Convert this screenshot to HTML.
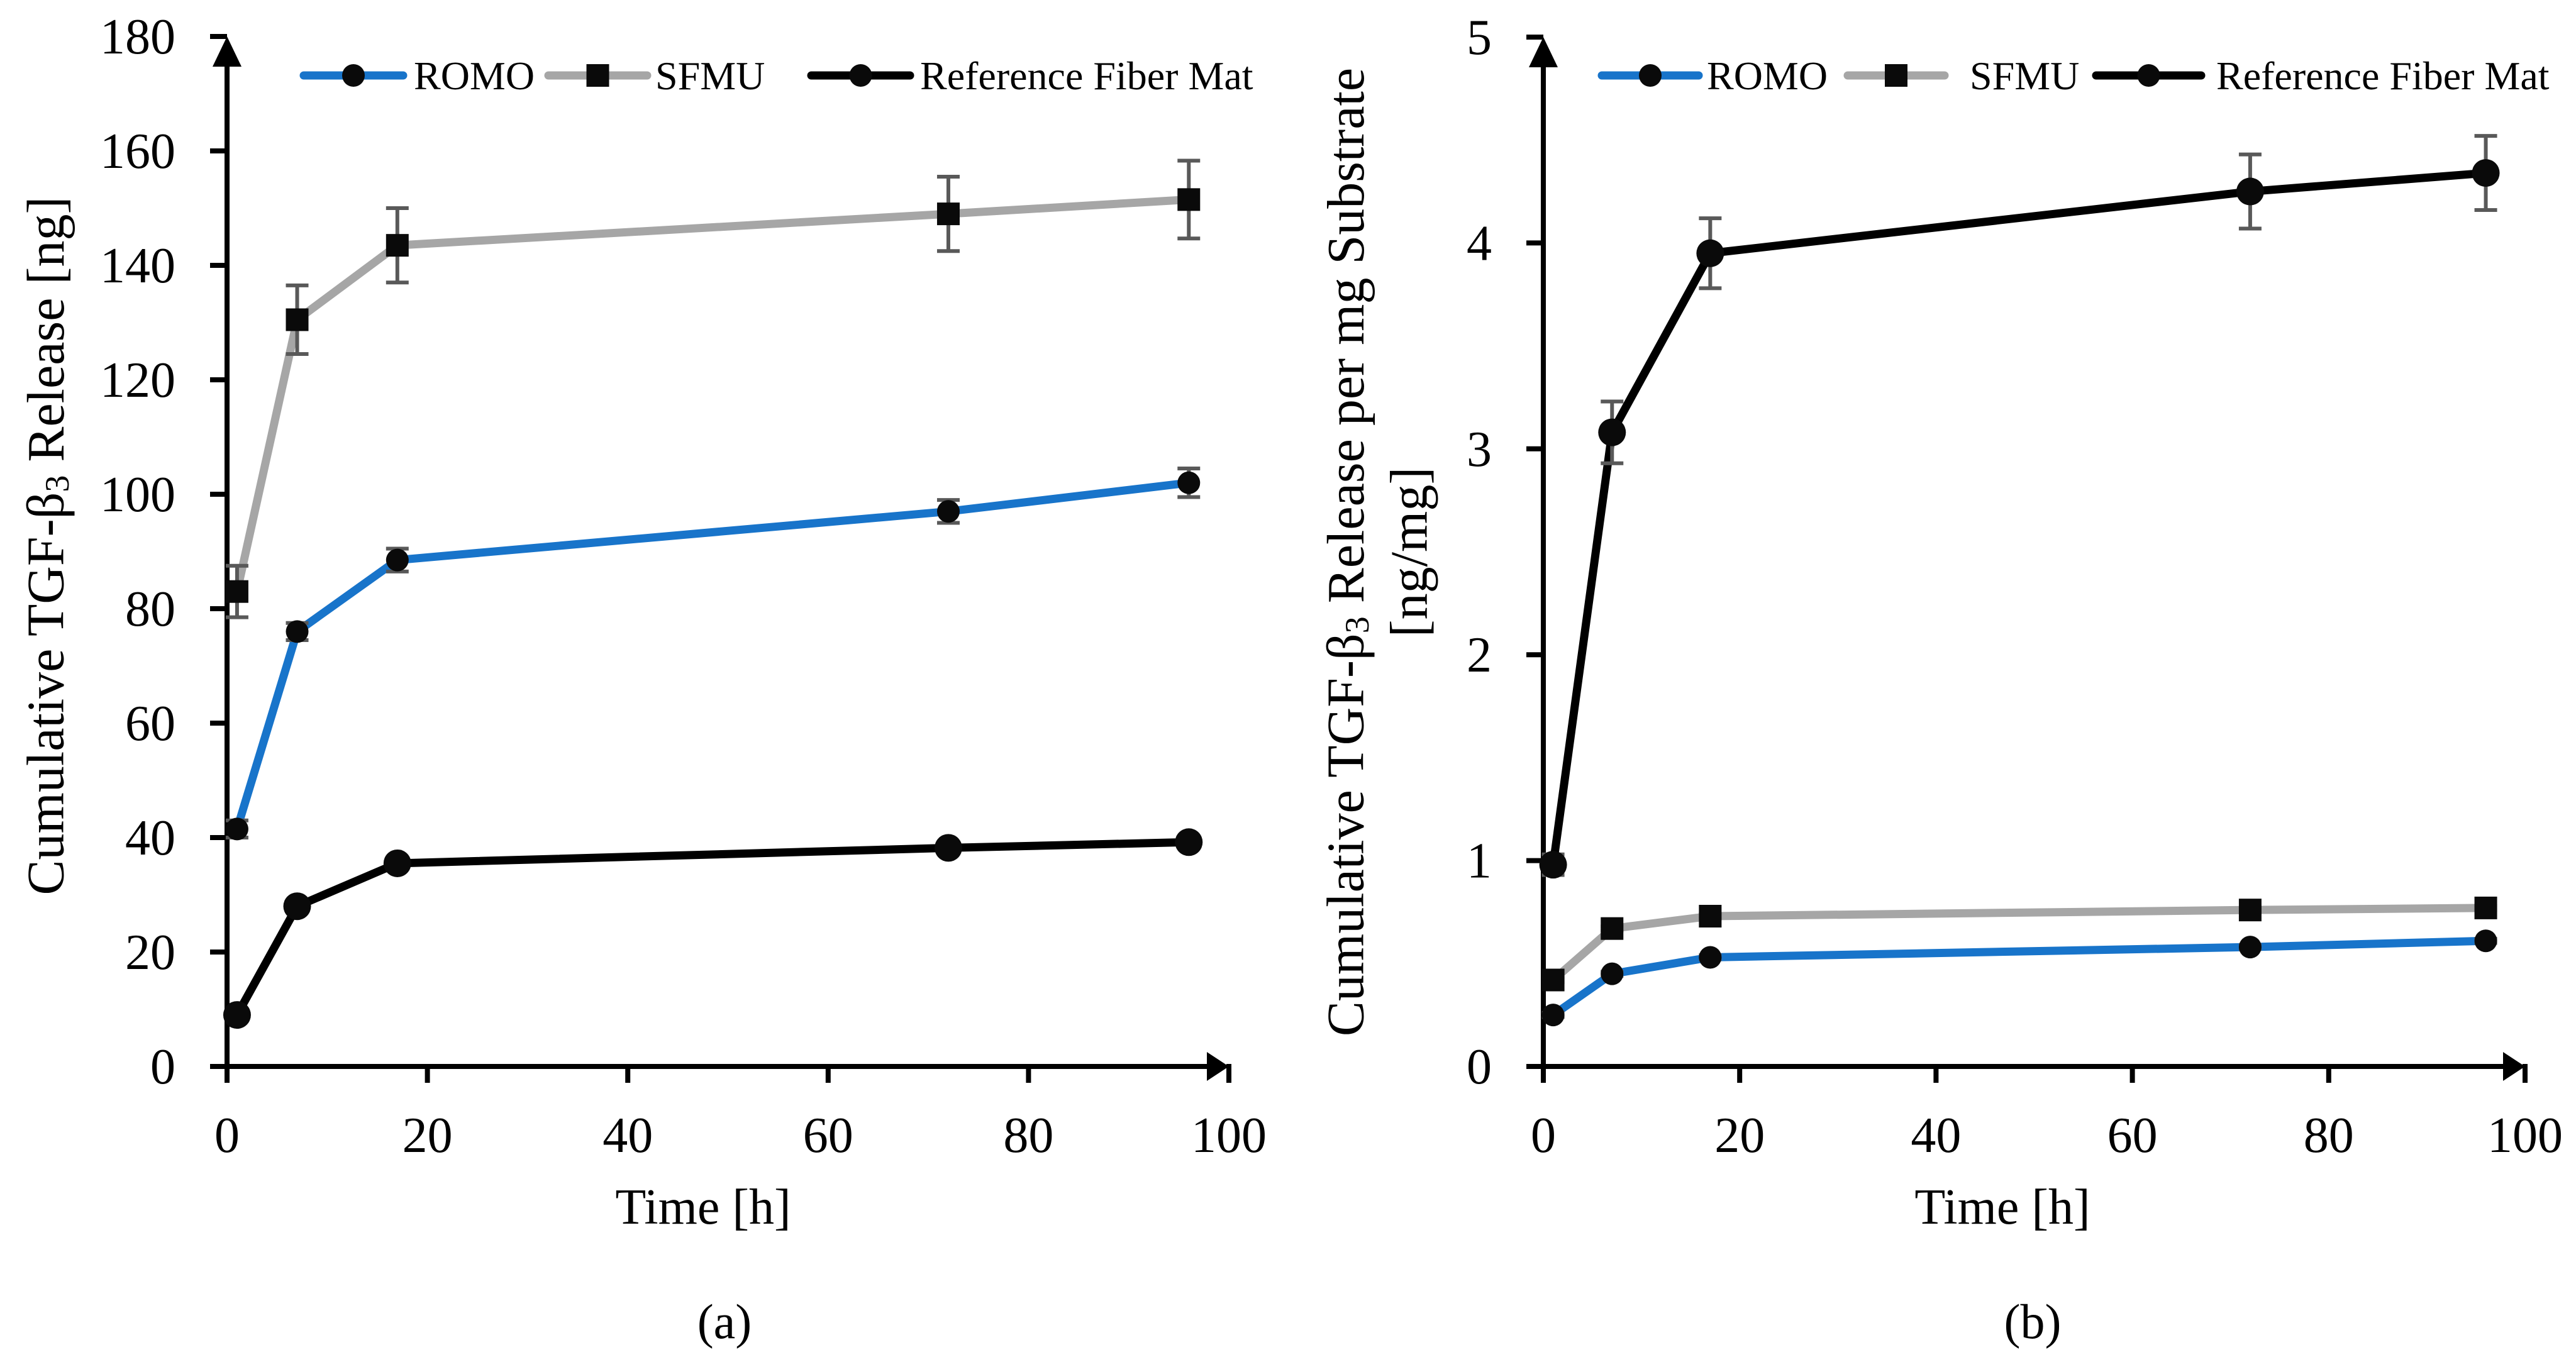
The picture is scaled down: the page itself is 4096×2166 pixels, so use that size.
<!DOCTYPE html>
<html><head><meta charset="utf-8"><style>
html,body{margin:0;padding:0;background:#fff;}
svg{display:block;font-family:"Liberation Serif",serif;}
</style></head><body>
<svg id="fig" width="4096" height="2166" viewBox="0 0 4096 2166" xmlns="http://www.w3.org/2000/svg">
<g id="pa"></g>
<g id="pb"></g>
<text x="73" y="868" font-size="84" text-anchor="middle" transform="rotate(-90 73 868)" dominant-baseline="central">Cumulative TGF-β<tspan font-size="54" dy="18">3</tspan><tspan dy="-18"> Release [ng]</tspan></text>
<text x="2140" y="878" font-size="84" text-anchor="middle" transform="rotate(-90 2140 878)" dominant-baseline="central">Cumulative TGF-β<tspan font-size="54" dy="18">3</tspan><tspan dy="-18"> Release per mg Substrate</tspan></text>
<text x="2241" y="878" font-size="84" text-anchor="middle" transform="rotate(-90 2241 878)" dominant-baseline="central">[ng/mg]</text>
<text x="1118" y="1946" font-size="80" text-anchor="middle">Time [h]</text>
<text x="3184" y="1946" font-size="80" text-anchor="middle">Time [h]</text>
<text x="1152" y="2128" font-size="78" text-anchor="middle">(a)</text>
<text x="3232" y="2128" font-size="78" text-anchor="middle">(b)</text>
</svg>
<script>
const times = [1, 7, 17, 72, 96];
const romoA = [41.5, 76, 88.5, 97, 102];
const romoAErr = [1.5, 1.5, 2, 2, 2.5];
const sfmuA = [83, 130.5, 143.5, 149, 151.5];
const sfmuAErr = [4.5, 6, 6.5, 6.5, 6.8];
const refA = [9, 28, 35.5, 38.2, 39.2];
const refAErr = [0.5, 0.6, 0.6, 0.6, 0.6];
const romoB = [0.25, 0.45, 0.53, 0.58, 0.61];
const romoBErr = [0.01, 0.01, 0.01, 0.01, 0.01];
const sfmuB = [0.42, 0.67, 0.73, 0.76, 0.77];
const sfmuBErr = [0.01, 0.01, 0.01, 0.01, 0.01];
const refB = [0.98, 3.08, 3.95, 4.25, 4.34];
const refBErr = [0.05, 0.15, 0.17, 0.18, 0.18];
const xTicks = [0, 20, 40, 60, 80, 100];
const yTicksA = [0, 20, 40, 60, 80, 100, 120, 140, 160, 180];
const yTicksB = [0, 1, 2, 3, 4, 5];
const legendLabels = ["ROMO", "SFMU", "Reference Fiber Mat"];

const NS = "http://www.w3.org/2000/svg";
function mk(parent, tag, attrs) {
  const e = document.createElementNS(NS, tag);
  for (const k in attrs) e.setAttribute(k, attrs[k]);
  parent.appendChild(e);
  return e;
}

function drawPanel(g, cfg) {
  const x = v => cfg.x0 + (v - 0) / 100 * (cfg.x1 - cfg.x0);
  const y = v => cfg.y0 - v / cfg.ymax * (cfg.y0 - cfg.y1);
  let e = mk(g, "line", {x1: x(0), y1: cfg.y0, x2: x(100) - 30, y2: cfg.y0, stroke: "#000", "stroke-width": 8});
  
  
  e = mk(g, "line", {x1: x(0), y1: cfg.y0 + 4, x2: x(0), y2: y(cfg.ymax) + 40, stroke: "#000", "stroke-width": 8});
  
  
  e = mk(g, "polygon", {points: `${x(100)-35},${cfg.y0-23} ${x(100)},${cfg.y0} ${x(100)-35},${cfg.y0+23}`, fill: "#000"});
  
  
  e = mk(g, "polygon", {points: `${x(0)-23},${y(cfg.ymax)+48} ${x(0)},${y(cfg.ymax)} ${x(0)+23},${y(cfg.ymax)+48}`, fill: "#000"});
  
  
  xTicks.forEach(t => {
    const tl = mk(g, "line", {x1: x(t), y1: cfg.y0 - 4, x2: x(t), y2: cfg.y0 + 26, stroke: "#000", "stroke-width": 8});
    
    
    const tx = mk(g, "text", {x: x(t), y: 1832, "font-size": 80, "text-anchor": "middle"});
    tx.textContent = t;
    
    
  });
  cfg.yTicks.forEach(t => {
    const tl = mk(g, "line", {x1: x(0) - 27, y1: y(t), x2: x(0), y2: y(t), stroke: "#000", "stroke-width": 8});
    
    
    const tx = mk(g, "text", {x: x(0) - 82, y: y(t) + 27, "font-size": 80, "text-anchor": "end"});
    tx.textContent = t;
    
    
  });
  cfg.series.forEach(s => {
    const pts = times.map((t, i) => `${x(t)},${y(s.vals[i])}`).join(" ");
    const pl = mk(g, "polyline", {points: pts, fill: "none", stroke: s.color, "stroke-width": 13, "stroke-linejoin": "round"});
    
    
    times.forEach((t, i) => {
      const cx = x(t);
      const top = y(s.vals[i] + s.err[i]), bot = y(s.vals[i] - s.err[i]);
      const eb = mk(g, "path", {d: `M${cx},${top}V${bot}M${cx-18},${top}H${cx+18}M${cx-18},${bot}H${cx+18}`, stroke: "#595959", "stroke-width": 6, fill: "none"});
      
      
    });
    times.forEach((t, i) => {
      const cx = x(t), cy = y(s.vals[i]);
      let m;
      if (s.square) m = mk(g, "rect", {x: cx - 18, y: cy - 18, width: 36, height: 36, fill: "#0a0a0a"});
      else m = mk(g, "circle", {cx: cx, cy: cy, r: s.r, fill: "#0a0a0a"});
      
      
    });
  });
  cfg.legend.forEach((L, i) => {
    const s = cfg.series[i];
    const ln = mk(g, "line", {x1: L.a, y1: 120, x2: L.b, y2: 120, stroke: s.color, "stroke-width": 13, "stroke-linecap": "round"});
    
    
    const c = (L.a + L.b) / 2;
    let m;
    if (s.square) m = mk(g, "rect", {x: c - 18, y: 102, width: 36, height: 36, fill: "#0a0a0a"});
    else m = mk(g, "circle", {cx: c, cy: 120, r: 18, fill: "#0a0a0a"});
    
    
    const tx = mk(g, "text", {x: L.t, y: 142, "font-size": 64});
    tx.textContent = legendLabels[i];
    
    
  });
}

drawPanel(document.getElementById("pa"), {
  x0: 361, x1: 1954, y0: 1696, y1: 58, ymax: 180, yTicks: yTicksA,
  series: [
    {name: "romo", vals: romoA, err: romoAErr, color: "#1874ca", r: 18},
    {name: "sfmu", vals: sfmuA, err: sfmuAErr, color: "#a6a6a6", square: true},
    {name: "reference", vals: refA, err: refAErr, color: "#000", r: 22}
  ],
  legend: [{a: 483, b: 641, t: 658}, {a: 872, b: 1029, t: 1042}, {a: 1290, b: 1447, t: 1463}]
});
drawPanel(document.getElementById("pb"), {
  x0: 2454, x1: 4015, y0: 1696, y1: 59, ymax: 5, yTicks: yTicksB,
  series: [
    {name: "romo", vals: romoB, err: romoBErr, color: "#1874ca", r: 18},
    {name: "sfmu", vals: sfmuB, err: sfmuBErr, color: "#a6a6a6", square: true},
    {name: "reference", vals: refB, err: refBErr, color: "#000", r: 22}
  ],
  legend: [{a: 2547, b: 2701, t: 2714}, {a: 2938, b: 3092, t: 3132}, {a: 3333, b: 3500, t: 3524}]
});
</script>
</body></html>
